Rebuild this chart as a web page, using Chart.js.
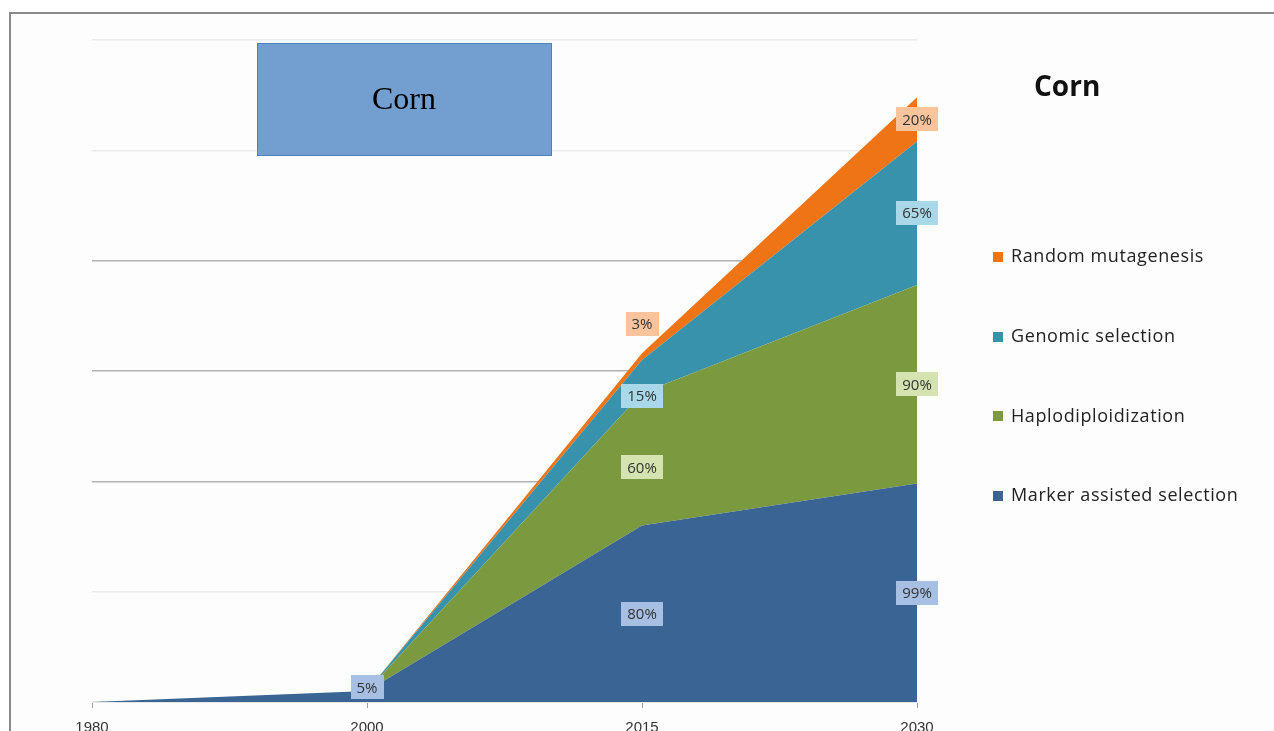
<!DOCTYPE html>
<html><head><meta charset="utf-8">
<script src="https://cdn.jsdelivr.net/npm/chart.js@4.4.1/dist/chart.umd.min.js"></script>
<style>
html,body{margin:0;padding:0;background:#fff;width:1274px;height:731px;overflow:hidden;}
#wrap{position:relative;width:1274px;height:731px;}
#frame{position:absolute;left:9px;top:12px;width:1280px;height:740px;border-top:2px solid #8a8a8a;border-left:2px solid #8a8a8a;background:#fdfdfd;}
#c{position:absolute;left:0;top:0;}
</style></head>
<body><div id="wrap"><div id="frame"></div><canvas id="c" width="1274" height="731"></canvas></div>
<script>
const years = ['1980','2000','2015','2030'];
const markerAssisted = [0, 5, 80, 99];
const haplodiploidization = [0, 0, 60, 90];
const genomicSelection = [0, 0, 15, 65];
const randomMutagenesis = [0, 0, 3, 20];
const seriesNames = ['Marker assisted selection','Haplodiploidization','Genomic selection','Random mutagenesis'];
const seriesValues = [markerAssisted, haplodiploidization, genomicSelection, randomMutagenesis];
const yMax = 300, yStep = 50;
const chartTitle = 'Corn';
const boxText = 'Corn';

const fillColors = ['#3a6493','#7b9a3f','#3892ab','#ee7416'];
const labelBg = ['#a6bfe3','#d5e3b1','#a9d9e8','#f9c49c'];
// pixel nudges for labels (Excel collision avoidance)
const labelNudge = [[0,-9,0,0],[0,0,8,0],[0,0,19,0],[0,0,-33,0]];

const labelsPlugin = {
  id: 'areaLabels',
  afterDatasetsDraw(chart) {
    const ctx = chart.ctx, ys = chart.scales.y;
    ctx.save();
    ctx.font = '15px "Open Sans"';
    ctx.textAlign = 'center'; ctx.textBaseline = 'middle';
    const base = years.map(() => 0);
    chart.data.datasets.forEach((ds, i) => {
      const meta = chart.getDatasetMeta(i);
      ds.data.forEach((v, j) => {
        const b = base[j];
        base[j] += v;
        if (v <= 0) return;
        const txt = v + '%';
        const x = meta.data[j].x;
        const y = ys.getPixelForValue(b + v / 2) + labelNudge[i][j];
        const w = ctx.measureText(txt).width + 12, h = 24;
        ctx.fillStyle = labelBg[i];
        ctx.fillRect(Math.round(x - w / 2), Math.round(y - h / 2), Math.round(w), h);
        ctx.fillStyle = '#333';
        ctx.fillText(txt, x, y + 1);
      });
    });
    ctx.restore();
  },
  afterDraw(chart) {
    const ctx = chart.ctx;
    ctx.save();
    // text box
    ctx.fillStyle = '#729fcf';
    ctx.fillRect(257, 43, 295, 113);
    ctx.strokeStyle = '#4f7fbf'; ctx.lineWidth = 1;
    ctx.strokeRect(257.5, 43.5, 294, 112);
    ctx.fillStyle = '#000';
    ctx.font = '32px "Liberation Serif"';
    ctx.textAlign = 'center'; ctx.textBaseline = 'middle';
    ctx.fillText(boxText, 404, 101);
    // title
    ctx.font = 'bold 28px "Open Sans"';
    ctx.textAlign = 'left';
    ctx.fillStyle = '#111';
    ctx.fillText(chartTitle, 1034, 88);
    // legend (reversed order)
    ctx.font = '18px "Open Sans"';
    ctx.letterSpacing = '0.6px';
    const n = chart.data.datasets.length;
    for (let k = 0; k < n; k++) {
      const i = n - 1 - k;
      const yc = 257 + k * 79.7;
      ctx.fillStyle = fillColors[i];
      ctx.fillRect(993, Math.round(yc - 5), 10, 10);
      ctx.fillStyle = '#222';
      ctx.fillText(chart.data.datasets[i].label, 1011, yc);
    }
    ctx.restore();
  }
};

new Chart(document.getElementById('c'), {
  type: 'line',
  data: {
    labels: years,
    datasets: seriesValues.map((vals, i) => ({
      label: seriesNames[i],
      data: vals,
      backgroundColor: fillColors[i],
      borderColor: fillColors[i],
      borderWidth: 0,
      pointRadius: 0,
      tension: 0,
      fill: i === 0 ? 'origin' : '-1'
    }))
  },
  options: {
    responsive: false,
    devicePixelRatio: 1,
    animation: false,
    layout: { padding: { left: 92, right: 357, top: 40, bottom: 0 } },
    plugins: { legend: { display: false }, tooltip: { enabled: false } },
    scales: {
      x: {
        offset: false,
        grid: { drawOnChartArea: false, drawTicks: true, tickLength: 6, color: '#a0a0a0' },
        border: { display: true, color: '#e6e6e6' },
        ticks: { color: '#333', font: { family: 'Liberation Sans', size: 15 }, padding: 11, maxRotation: 0 },
        afterFit(s) { s.height = 29; }
      },
      y: {
        stacked: true,
        min: 0, max: yMax,
        ticks: { display: false, stepSize: yStep },
        border: { display: false },
        grid: {
          drawTicks: false,
          lineWidth: 1.5,
          color: (c) => {
            const v = c.tick && c.tick.value;
            return (v === 100 || v === 150 || v === 200) ? '#b2b2b2' : '#ececec';
          }
        },
        afterFit(s) { s.width = 0; }
      }
    }
  },
  plugins: [labelsPlugin]
});
</script>
</body></html>
